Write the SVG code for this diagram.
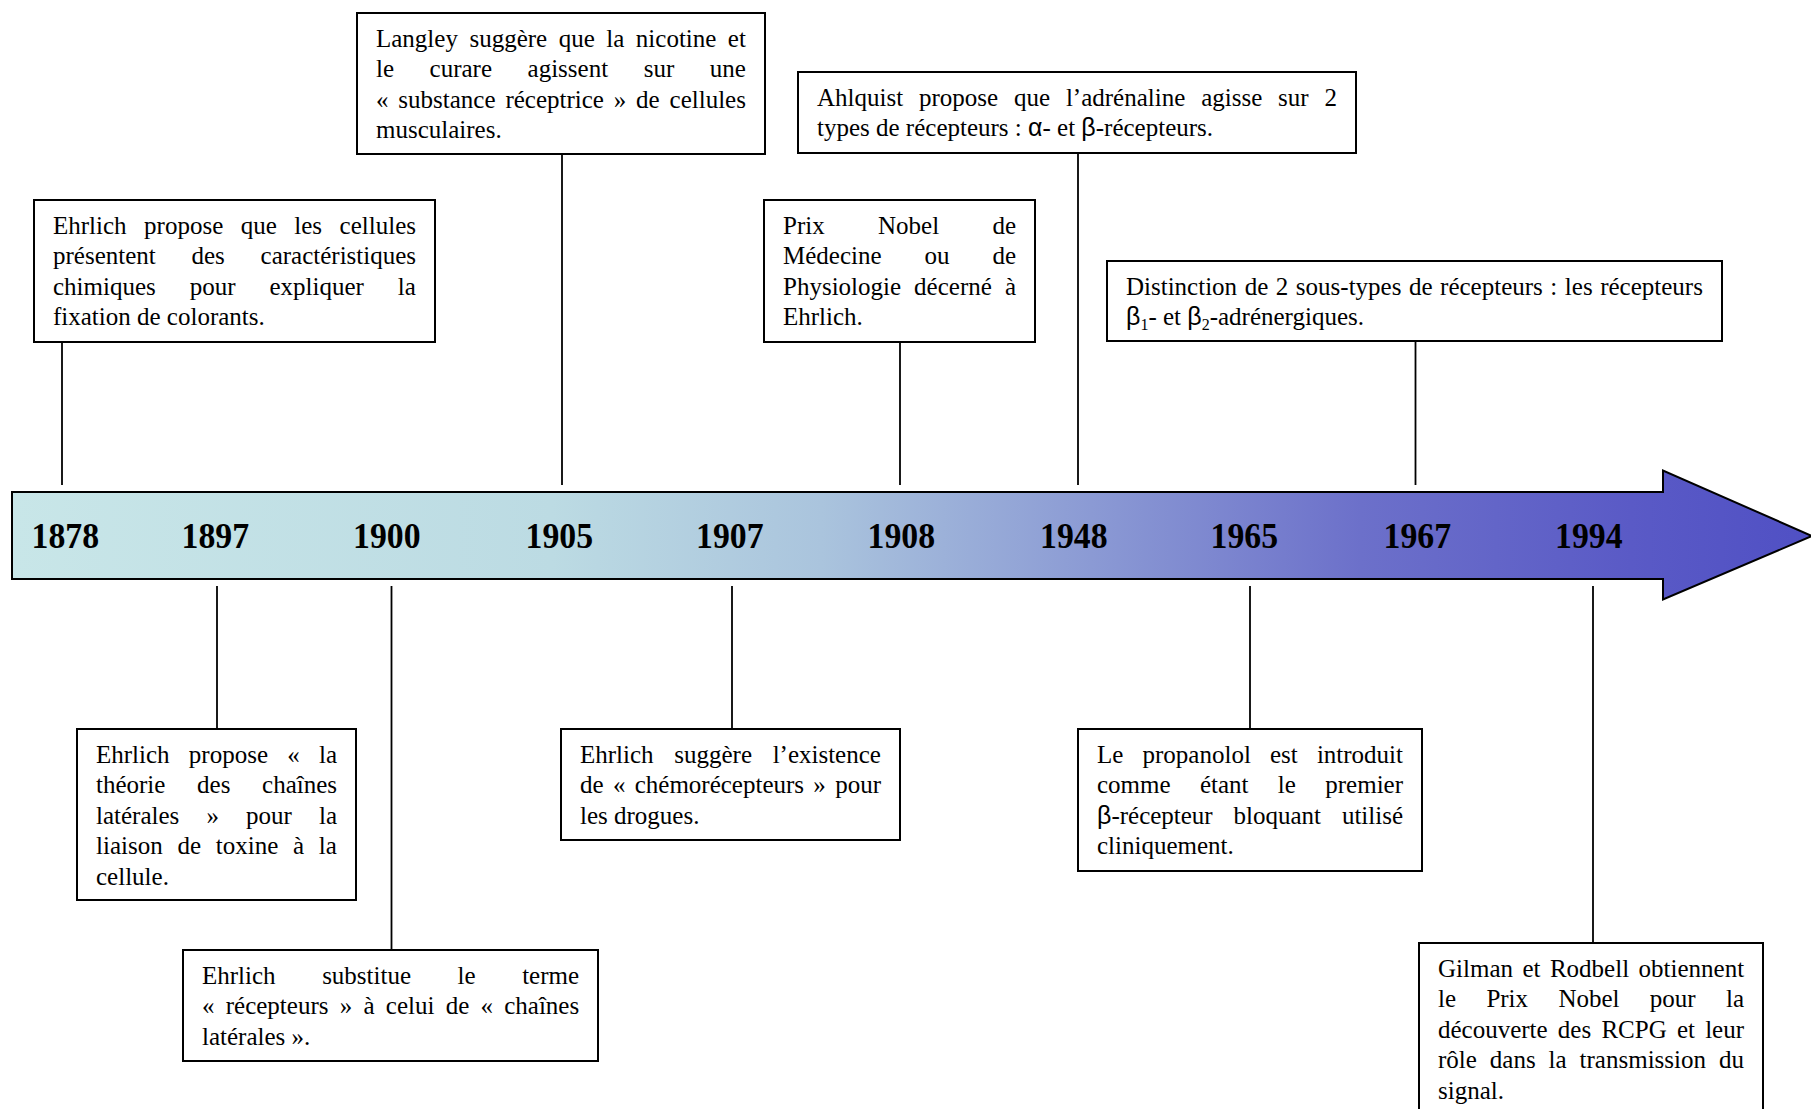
<svg xmlns="http://www.w3.org/2000/svg" width="1811" height="1109" viewBox="0 0 1811 1109">
<defs>
<linearGradient id="barGrad" gradientUnits="userSpaceOnUse" x1="12" y1="0" x2="1811" y2="0">
<stop offset="0" stop-color="#c8e6e8"/>
<stop offset="0.3" stop-color="#bcdbe3"/>
<stop offset="0.45" stop-color="#aac4dd"/>
<stop offset="0.6" stop-color="#8b9ad4"/>
<stop offset="0.75" stop-color="#6c70ca"/>
<stop offset="0.9" stop-color="#5a5ac6"/>
<stop offset="1" stop-color="#5050c4"/>
</linearGradient>
<style>
.box{fill:#ffffff;stroke:#000;stroke-width:2}
.t{font-family:"Liberation Serif","Times New Roman",serif;font-size:25px;fill:#000}
.g{font-family:"Liberation Sans",Arial,sans-serif}
.yr{font-family:"Liberation Serif","Times New Roman",serif;font-size:36px;font-weight:bold;fill:#000}
.conn line{stroke:#000;stroke-width:1.8}
.sub{font-size:16px}
</style>
</defs>
<rect width="1811" height="1109" fill="#ffffff"/>

<g id="timeline">
<polygon points="12,492 1663,492 1663,470.5 1812,536 1663,599.5 1663,579 12,579" fill="url(#barGrad)" stroke="#000" stroke-width="2"/>
<text class="yr" x="31.5" y="548" textLength="67.5" lengthAdjust="spacingAndGlyphs">1878</text>
<text class="yr" x="181.5" y="548" textLength="67.5" lengthAdjust="spacingAndGlyphs">1897</text>
<text class="yr" x="353" y="548" textLength="67.5" lengthAdjust="spacingAndGlyphs">1900</text>
<text class="yr" x="525.5" y="548" textLength="67.5" lengthAdjust="spacingAndGlyphs">1905</text>
<text class="yr" x="696" y="548" textLength="67.5" lengthAdjust="spacingAndGlyphs">1907</text>
<text class="yr" x="867.5" y="548" textLength="67.5" lengthAdjust="spacingAndGlyphs">1908</text>
<text class="yr" x="1040" y="548" textLength="67.5" lengthAdjust="spacingAndGlyphs">1948</text>
<text class="yr" x="1210.5" y="548" textLength="67.5" lengthAdjust="spacingAndGlyphs">1965</text>
<text class="yr" x="1383.5" y="548" textLength="67.5" lengthAdjust="spacingAndGlyphs">1967</text>
<text class="yr" x="1555" y="548" textLength="67.5" lengthAdjust="spacingAndGlyphs">1994</text>
</g>

<g id="connectors" class="conn">
<line x1="62" y1="342" x2="62" y2="485"/>
<line x1="562" y1="154" x2="562" y2="485"/>
<line x1="900" y1="342" x2="900" y2="485"/>
<line x1="1078" y1="153" x2="1078" y2="485"/>
<line x1="1415.5" y1="341" x2="1415.5" y2="485"/>
<line x1="217" y1="586" x2="217" y2="729"/>
<line x1="391.5" y1="586" x2="391.5" y2="950"/>
<line x1="732" y1="586" x2="732" y2="729"/>
<line x1="1250" y1="586" x2="1250" y2="729"/>
<line x1="1593" y1="586" x2="1593" y2="943"/>
</g>

<g id="n1878">
<rect class="box" x="34" y="200" width="401" height="142"/>
<text class="t" x="53" y="234" style="word-spacing:11.25px">Ehrlich propose que les cellules</text>
<text class="t" x="53" y="264.4" style="word-spacing:29.5px">présentent des caractéristiques</text>
<text class="t" x="53" y="294.8" style="word-spacing:27.7px">chimiques pour expliquer la</text>
<text class="t" x="53" y="325.2">fixation de colorants.</text>
</g>

<g id="n1905">
<rect class="box" x="357" y="13" width="408" height="141"/>
<text class="t" x="376" y="47" style="word-spacing:5.26px">Langley suggère que la nicotine et</text>
<text class="t" x="376" y="77.4" style="word-spacing:29.3px">le curare agissent sur une</text>
<text class="t" x="376" y="107.8" style="word-spacing:3.6px">« substance réceptrice » de cellules</text>
<text class="t" x="376" y="138.2">musculaires.</text>
</g>

<g id="n1948">
<rect class="box" x="798" y="72" width="558" height="81"/>
<text class="t" x="817" y="106" style="word-spacing:9.6px">Ahlquist propose que l’adrénaline agisse sur 2</text>
<text class="t" x="817" y="136.4">types de récepteurs : <tspan class="g">α</tspan>- et <tspan class="g">β</tspan>-récepteurs.</text>
</g>

<g id="n1908">
<rect class="box" x="764" y="200" width="271" height="142"/>
<text class="t" x="783" y="234" style="word-spacing:47.1px">Prix Nobel de</text>
<text class="t" x="783" y="264.4" style="word-spacing:36.7px">Médecine ou de</text>
<text class="t" x="783" y="294.8" style="word-spacing:6.8px">Physiologie décerné à</text>
<text class="t" x="783" y="325.2">Ehrlich.</text>
</g>

<g id="n1967">
<rect class="box" x="1107" y="261" width="615" height="80"/>
<text class="t" x="1126" y="295" style="word-spacing:1.3px">Distinction de 2 sous-types de récepteurs : les récepteurs</text>
<text class="t" x="1126" y="325.4"><tspan class="g">β</tspan><tspan class="sub" dy="5">1</tspan><tspan dy="-5">- et </tspan><tspan class="g">β</tspan><tspan class="sub" dy="5">2</tspan><tspan dy="-5">-adrénergiques.</tspan></text>
</g>

<g id="n1897">
<rect class="box" x="77" y="729" width="279" height="171"/>
<text class="t" x="96" y="763" style="word-spacing:13px">Ehrlich propose « la</text>
<text class="t" x="96" y="793.4" style="word-spacing:25.4px">théorie des chaînes</text>
<text class="t" x="96" y="823.8" style="word-spacing:20.9px">latérales » pour la</text>
<text class="t" x="96" y="854.2" style="word-spacing:8.5px">liaison de toxine à la</text>
<text class="t" x="96" y="884.6">cellule.</text>
</g>

<g id="n1900">
<rect class="box" x="183" y="950" width="415" height="111"/>
<text class="t" x="202" y="984" style="word-spacing:40.3px">Ehrlich substitue le terme</text>
<text class="t" x="202" y="1014.4" style="word-spacing:5px">« récepteurs » à celui de « chaînes</text>
<text class="t" x="202" y="1044.8">latérales ».</text>
</g>

<g id="n1907">
<rect class="box" x="561" y="729" width="339" height="111"/>
<text class="t" x="580" y="763" style="word-spacing:14.4px">Ehrlich suggère l’existence</text>
<text class="t" x="580" y="793.4" style="word-spacing:3.05px">de « chémorécepteurs » pour</text>
<text class="t" x="580" y="823.8">les drogues.</text>
</g>

<g id="n1965">
<rect class="box" x="1078" y="729" width="344" height="142"/>
<text class="t" x="1097" y="763" style="word-spacing:12.9px">Le propanolol est introduit</text>
<text class="t" x="1097" y="793.4" style="word-spacing:23.1px">comme étant le premier</text>
<text class="t" x="1097" y="823.8" style="word-spacing:14.6px"><tspan class="g">β</tspan>-récepteur bloquant utilisé</text>
<text class="t" x="1097" y="854.2">cliniquement.</text>
</g>

<g id="n1994">
<rect class="box" x="1419" y="943" width="344" height="180"/>
<text class="t" x="1438" y="977" style="word-spacing:3.2px">Gilman et Rodbell obtiennent</text>
<text class="t" x="1438" y="1007.4" style="word-spacing:24.1px">le Prix Nobel pour la</text>
<text class="t" x="1438" y="1037.8" style="word-spacing:3.95px">découverte des RCPG et leur</text>
<text class="t" x="1438" y="1068.2" style="word-spacing:6.7px">rôle dans la transmission du</text>
<text class="t" x="1438" y="1098.6">signal.</text>
</g>
</svg>
